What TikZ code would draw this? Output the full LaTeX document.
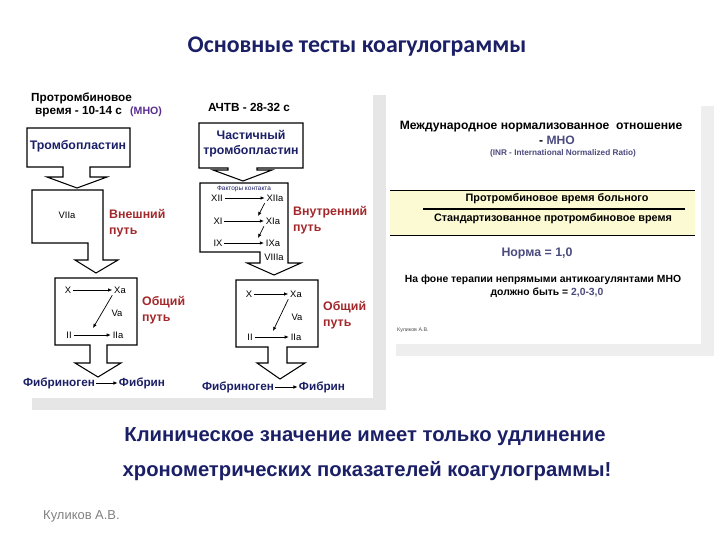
\documentclass[tikz,border=0pt]{standalone}
\usepackage{fontspec}
\setmainfont{Liberation Sans}
\newfontfamily\titlefont{Carlito}
\usepackage{tikz}
\usetikzlibrary{positioning, arrows.meta}

\definecolor{navytxt}{HTML}{1B1F66}
\definecolor{pathred}{HTML}{A3282B}
\definecolor{mnoviolet}{HTML}{5A2D91}
\definecolor{slatetxt}{HTML}{4B4B7E}
\definecolor{shadowgray}{HTML}{E6E6E6}
\definecolor{shadowlight}{HTML}{EEEEEE}
\definecolor{bandyellow}{HTML}{FCFAD2}

\begin{document}
\begin{tikzpicture}[x=0.85pt, y=-0.85pt, inner sep=0pt,
    blockarrow/.style={draw=black, fill=white, line width=0.9pt, line join=miter},
    hdrtxt/.style={font=\bfseries\fontsize{10}{12}\selectfont},
    boxtxt/.style={font=\bfseries\fontsize{10.5}{12.5}\selectfont, text=navytxt, align=center},
    pathlbl/.style={font=\bfseries\fontsize{10.5}{13.5}\selectfont, text=pathred, align=left},
    fac/.style={font=\fontsize{8}{9}\selectfont, inner sep=1.5pt},
    facarrow/.style={-{Latex[length=3.5pt, width=3pt]}, line width=0.6pt},
    fibtxt/.style={font=\bfseries\fontsize{10}{12}\selectfont, text=navytxt, inner sep=1pt},
    inrtxt/.style={font=\bfseries\fontsize{9.2}{11}\selectfont},
  ]
  \useasboundingbox (0,0) rectangle (720,540);
  \fill[white] (0,0) rectangle (720,540);

  % title
  \node[font=\titlefont\bfseries\fontsize{20.3}{23}\selectfont, text=navytxt] (title) at (357,47) {Основные тесты коагулограммы};

  % two pasted slides with their grey shadow
  \fill[shadowgray] (32,95) rectangle (386,410);
  \fill[white] (22,85) rectangle (373,398);
  \fill[shadowlight] (396,106) rectangle (714,356);
  \fill[white] (386,95) rectangle (701,344);

  % --- left scheme: prothrombin time, extrinsic path
  \node[hdrtxt, anchor=west] (ptvA) at (31,98) {Протромбиновое};
  \node[hdrtxt, anchor=west] (ptvB) at (35,112) {время - 10-14 с\hspace{7pt}\textcolor{mnoviolet}{\fontsize{9}{11}\selectfont(МНО)}};

  \draw[blockarrow] (27,128) -- (130,128) -- (130,167) -- (90,167) -- (90,177) -- (107,177)
    -- (77,188) -- (47,177) -- (63,177) -- (63,167) -- (27,167) -- cycle;
  \node[boxtxt] (trombA) at (78,146) {Тромбопластин};

  \draw[blockarrow] (32,190) -- (103,190) -- (103,260) -- (118,260) -- (96,273) -- (75,260)
    -- (88,260) -- (88,243) -- (32,243) -- cycle;
  \node[fac] (f7a) at (67,215) {VIIa};
  \node[pathlbl, anchor=west] (extpath) at (109,223) {Внешний\\путь};

  \draw[blockarrow] (55,278) -- (137,278) -- (137,345) -- (107,345) -- (107,363) -- (121,363)
    -- (98,377) -- (75,363) -- (90,363) -- (90,345) -- (55,345) -- cycle;
  \node[fac] (xA) at (68,290) {X};
  \node[fac] (xaA) at (120,290) {Xa};
  \node[fac] (vaA) at (117,313) {Va};
  \node[fac] (iiA) at (69,335) {II};
  \node[fac] (iiaA) at (118,335) {IIa};
  \coordinate (vaendA) at (93,328);
  \draw[facarrow] (xA) -- (xaA);
  \draw[facarrow] (xaA.south west) -- (vaendA);
  \draw[facarrow] (iiA) -- (iiaA);
  \node[pathlbl, anchor=west] (compathA) at (142,310) {Общий\\путь};

  \node[fibtxt] (fbgA) at (59,383) {Фибриноген};
  \node[fibtxt] (fbnA) at (142,383) {Фибрин};
  \draw[facarrow] (fbgA) -- (fbnA);

  % --- middle scheme: APTT, intrinsic path
  \node[hdrtxt] (aptt) at (249,107) {АЧТВ - 28-32 с};

  \draw[blockarrow] (199,123) -- (303,123) -- (303,168) -- (257,168) -- (257,170) -- (272,170)
    -- (243,181) -- (213,170) -- (228,170) -- (228,168) -- (199,168) -- cycle;
  \node[boxtxt] (trombB) at (251,144) {Частичный\\тромбопластин};

  \draw[blockarrow] (200,183) -- (288,183) -- (288,263) -- (301,263) -- (274,275) -- (247,263)
    -- (260,263) -- (260,252) -- (200,252) -- cycle;
  \node[font=\fontsize{5.5}{6}\selectfont, text=navytxt] (contact) at (244,189) {Факторы контакта};
  \node[fac] (f12) at (217,198) {XII};
  \node[fac] (f12a) at (275,198) {XIIa};
  \node[fac] (f11) at (218,221) {XI};
  \node[fac] (f11a) at (273,221) {XIa};
  \node[fac] (f9) at (218,243) {IX};
  \node[fac] (f9a) at (273,243) {IXa};
  \node[fac] (f8a) at (274,257) {VIIIa};
  \coordinate (end11) at (258,216);
  \coordinate (end9) at (258,238);
  \draw[facarrow] (f12) -- (f12a);
  \draw[facarrow] (f12a.south west) -- (end11);
  \draw[facarrow] (f11) -- (f11a);
  \draw[facarrow] (f11a.south west) -- (end9);
  \draw[facarrow] (f9) -- (f9a);
  \node[pathlbl, anchor=west] (intpath) at (293,220) {Внутренний\\путь};

  \draw[blockarrow] (236,280) -- (318,280) -- (318,347) -- (287,347) -- (287,363) -- (305,363)
    -- (280,379) -- (257,363) -- (268,363) -- (268,347) -- (236,347) -- cycle;
  \node[fac] (xB) at (249,294) {X};
  \node[fac] (xaB) at (296,294) {Xa};
  \node[fac] (vaB) at (297,317) {Va};
  \node[fac] (iiB) at (250,337) {II};
  \node[fac] (iiaB) at (296,337) {IIa};
  \coordinate (vaendB) at (273,331);
  \draw[facarrow] (xB) -- (xaB);
  \draw[facarrow] (xaB.south west) -- (vaendB);
  \draw[facarrow] (iiB) -- (iiaB);
  \node[pathlbl, anchor=west] (compathB) at (323,315) {Общий\\путь};

  \node[fibtxt] (fbgB) at (238,387) {Фибриноген};
  \node[fibtxt] (fbnB) at (322,387) {Фибрин};
  \draw[facarrow] (fbgB) -- (fbnB);

  % --- right slide: INR
  \node[inrtxt, font=\bfseries\fontsize{10.3}{12}\selectfont] (inrA) at (541,127) {Международное нормализованное\ \ отношение};
  \node[inrtxt, font=\bfseries\fontsize{10.3}{12}\selectfont] (inrB) at (557,140) {- \textcolor{slatetxt}{МНО}};
  \node[font=\bfseries\fontsize{7}{8}\selectfont, text=slatetxt] (inrC) at (563,153) {(INR - International Normalized Ratio)};

  \fill[bandyellow] (390,190) rectangle (695,235);
  \draw[line width=0.7pt] (390,190) -- (695,190);
  \draw[line width=1.3pt] (423,209) -- (685,209);
  \draw[line width=0.7pt] (390,235) -- (695,235);
  \node[inrtxt] (ptnum) at (557,199) {Протромбиновое время больного};
  \node[inrtxt] (ptden) at (553,219) {Стандартизованное протромбиновое время};

  \node[font=\bfseries\fontsize{10.5}{12}\selectfont, text=slatetxt] (norm) at (537,253) {Норма = 1,0};
  \node[inrtxt, font=\bfseries\fontsize{8.8}{10}\selectfont] (therA) at (543,280) {На фоне терапии непрямыми антикоагулянтами МНО};
  \node[inrtxt, font=\bfseries\fontsize{8.8}{10}\selectfont] (therB) at (547,293) {должно быть = \textcolor{slatetxt}{2,0-3,0}};
  \node[font=\fontsize{4.5}{5}\selectfont, text=black!70, anchor=west] (sign) at (397,330) {Куликов А.В.};

  % --- conclusion
  \node[font=\bfseries\fontsize{17.2}{20}\selectfont, text=navytxt] (concA) at (365,437) {Клиническое значение имеет только удлинение};
  \node[font=\bfseries\fontsize{17.2}{20}\selectfont, text=navytxt] (concB) at (367,471) {хронометрических показателей коагулограммы!};

  \node[font=\fontsize{11}{13}\selectfont, text=black!50, anchor=west] (author) at (43,516) {Куликов А.В.};
\end{tikzpicture}
\end{document}
